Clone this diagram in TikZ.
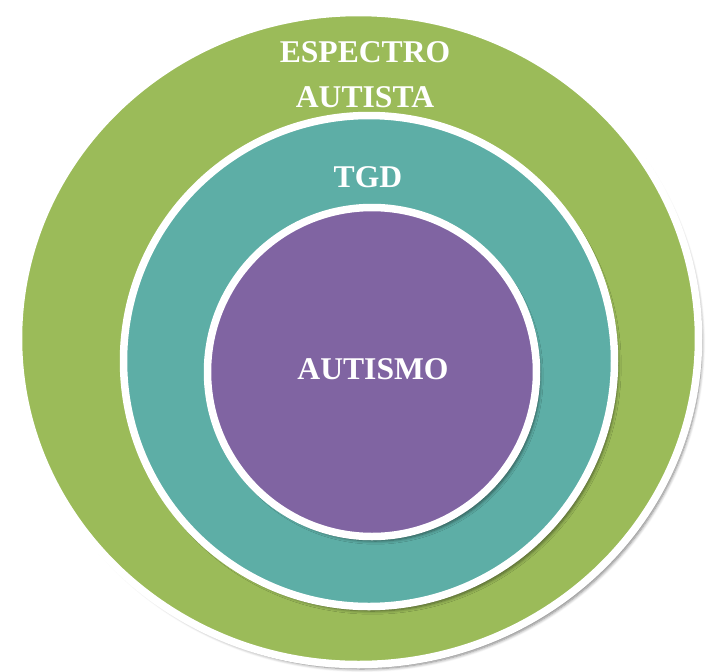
\documentclass[tikz,border=0pt]{standalone}
\usepackage{fontspec}
\setmainfont{Liberation Serif}
\usetikzlibrary{shadows.blur}
\definecolor{espgreen}{HTML}{9BBB59}
\definecolor{tgdteal}{HTML}{5DAEA6}
\definecolor{autpurple}{HTML}{8064A2}

\begin{document}
\begin{tikzpicture}[
  ring/.style={draw=white,line width=0.15cm,blur shadow={shadow xshift=0.7mm,shadow yshift=-0.9mm,shadow blur steps=6,shadow opacity=50}},
  lbl/.style={text=white,font=\fontsize{18}{25.5}\selectfont\bfseries,align=center}]
\useasboundingbox (0,0) rectangle (14.16,-13.44);
\path[ring,fill=espgreen] (7.17,-6.77) ellipse (6.80 and 6.52);
\path[ring,fill=tgdteal] (7.38,-7.22) circle (4.91);
\path[ring,fill=autpurple] (7.44,-7.44) circle (3.29);
\node[lbl] (espectro) at (7.30,-1.50) {ESPECTRO\\AUTISTA};
\node[lbl] (tgd) at (7.36,-3.54) {TGD};
\node[lbl] (autismo) at (7.46,-7.38) {AUTISMO};
\end{tikzpicture}
\end{document}
